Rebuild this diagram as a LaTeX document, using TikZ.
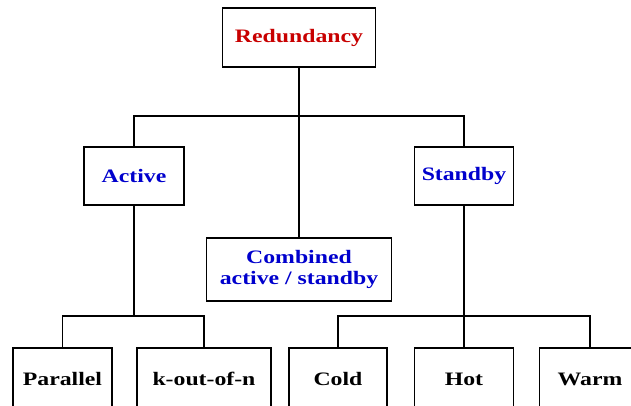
\documentclass[tikz,border=0pt]{standalone}
\usepackage{xcolor}
\usepackage{fontspec}
\setmainfont{Liberation Serif}[FakeStretch=1.25]
\usepackage{tikz}
\usetikzlibrary{positioning}

\definecolor{rootred}{RGB}{200,0,0}
\definecolor{typeblue}{RGB}{0,0,205}

\begin{document}
\begin{tikzpicture}[boxnode/.style={rectangle, draw=black, fill=white, line width=1.3pt, inner sep=2pt, align=center, font=\fontsize{19}{21}\selectfont\bfseries}, x=1pt, y=-1pt]
\useasboundingbox (0,0) rectangle (631,406);

\node[boxnode, minimum width=153, minimum height=59] at (299.0, 37.5) (red) {\textcolor{rootred}{Redundancy}};
\node[boxnode, minimum width=100, minimum height=58] at (134.0, 176.0) (act) {\textcolor{typeblue}{Active}};
\node[boxnode, minimum width=99, minimum height=58] at (464.0, 176.0) (std) {\textcolor{typeblue}{Standby}};
\node[boxnode, minimum width=185, minimum height=63] at (299.0, 269.5) (comb) {\textcolor{typeblue}{Combined}\\\textcolor{typeblue}{active / standby}};
\node[boxnode, minimum width=99, minimum height=62] at (62.5, 379.0) (par) {Parallel};
\node[boxnode, minimum width=134, minimum height=62] at (204.0, 379.0) (kout) {k-out-of-n};
\node[boxnode, minimum width=98, minimum height=62] at (338.0, 379.0) (cold) {Cold};
\node[boxnode, minimum width=99, minimum height=62] at (464.0, 379.0) (hot) {Hot};
\node[boxnode, minimum width=101, minimum height=62] at (590.0, 379.0) (warm) {Warm};

\coordinate (topbus) at (299, 116);
\coordinate (actbus) at (134, 316);
\coordinate (stdbus) at (464, 316);

\draw[line width=1.1pt] (red) -- (comb);
\draw[line width=1.1pt] (act.north) -- (act.north |- topbus) -- (std.north |- topbus) -- (std.north);
\draw[line width=1.1pt] (act) -- (act.south |- actbus);
\draw[line width=1.1pt] (par.north) -- (par.north |- actbus) -- (kout.north |- actbus) -- (kout.north);
\draw[line width=1.1pt] (std) -- (hot);
\draw[line width=1.1pt] (cold.north) -- (cold.north |- stdbus) -- (warm.north |- stdbus) -- (warm.north);

\end{tikzpicture}
\end{document}
